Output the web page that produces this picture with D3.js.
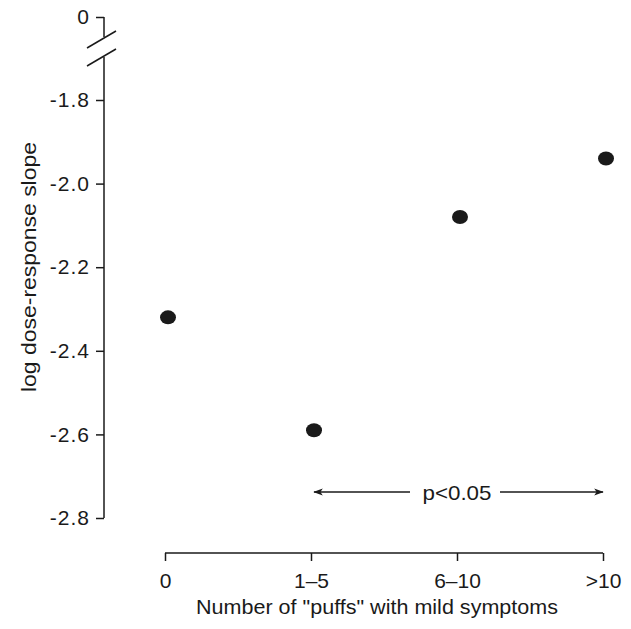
<!DOCTYPE html>
<html><head><meta charset="utf-8">
<script src="https://cdn.jsdelivr.net/npm/d3@7"></script>
<style>
body{margin:0;background:#fff;}
svg text{font-family:"Liberation Sans",Arial,sans-serif;fill:#1a1a1a;}
</style></head>
<body><svg id="c" width="631" height="629"></svg>
<script>
const categories = ["0", "1\u20135", "6\u201310", ">10"];
const slopes = [-2.32, -2.59, -2.08, -1.94];
const yTicks = [-1.8, -2.0, -2.2, -2.4, -2.6, -2.8];
const yTickLabels = ["-1.8", "-2.0", "-2.2", "-2.4", "-2.6", "-2.8"];
const breakTick = [0];
const annotation = "p<0.05";
const xTitle = "Number of \"puffs\" with mild symptoms";
const yTitle = "log dose-response slope";

const svg = d3.select("#c");
const ink = "#1a1a1a";
const axX = 104;
const axY = 553;

const x = d3.scalePoint().domain(categories).range([165, 603]);
const y = d3.scaleLinear().domain([-1.8, -2.8]).range([100, 518]);
const yTop = d3.scaleLinear().domain([0, 1]).range([17, 0]);

// y axis (lower part)
const gy = svg.append("g").attr("transform", `translate(${axX},0)`)
  .call(d3.axisLeft(y).tickValues(yTicks).tickFormat((d,i)=>yTickLabels[i]).tickSize(8).tickPadding(6).tickSizeOuter(0));
gy.select(".domain").remove();
gy.append("line").attr("x1",0).attr("x2",0).attr("y1",57).attr("y2",y(-2.8)).attr("stroke",ink).attr("stroke-width",1.5);
// y axis top part with 0 tick
const gy0 = svg.append("g").attr("transform", `translate(${axX},0)`)
  .call(d3.axisLeft(yTop).tickValues(breakTick).tickFormat(d3.format("d")).tickSize(8).tickPadding(6).tickSizeOuter(0));
gy0.select(".domain").remove();
gy0.append("line").attr("x1",0).attr("x2",0).attr("y1",yTop(0)).attr("y2",37).attr("stroke",ink).attr("stroke-width",1.5);
// break marks
[[-17,48,12,31],[-17,66,12,49]].forEach(s=>{
  svg.append("line").attr("x1",axX+s[0]).attr("y1",s[1]).attr("x2",axX+s[2]).attr("y2",s[3])
    .attr("stroke",ink).attr("stroke-width",1.5);
});
[gy, gy0].forEach(g=>{
  g.selectAll(".tick line").attr("stroke",ink).attr("stroke-width",1.5);
  g.selectAll(".tick text").attr("font-size",21).attr("letter-spacing",1).style("fill",ink);
});

// x axis
const gx = svg.append("g").attr("transform", `translate(0,${axY})`)
  .call(d3.axisBottom(x).tickSize(8).tickPadding(12).tickSizeOuter(0));
gx.select(".domain").remove();
gx.append("line").attr("x1",x(categories[0])).attr("x2",x(categories[3])).attr("y1",0).attr("y2",0).attr("stroke",ink).attr("stroke-width",1.5);
gx.selectAll(".tick line").attr("stroke",ink).attr("stroke-width",1.5);
gx.selectAll(".tick text").attr("font-size",21).style("fill",ink);

// titles
svg.append("text").attr("x",377).attr("y",614)
  .attr("text-anchor","middle").attr("font-size",21)
  .attr("textLength",362).attr("lengthAdjust","spacingAndGlyphs").text(xTitle);
svg.append("text").attr("transform","translate(36,267) rotate(-90)")
  .attr("text-anchor","middle").attr("font-size",21)
  .attr("textLength",250).attr("lengthAdjust","spacingAndGlyphs").text(yTitle);

// points
svg.append("g").selectAll("ellipse").data(slopes).join("ellipse")
  .attr("cx",(d,i)=>x(categories[i])+3).attr("cy",d=>y(d))
  .attr("rx",8).attr("ry",7).attr("fill",ink);

// annotation arrow
const ay = 492;
const defs = svg.append("defs");
defs.append("marker").attr("id","ah").attr("viewBox","0 0 12 10").attr("refX",11).attr("refY",5)
  .attr("markerWidth",12).attr("markerHeight",8).attr("markerUnits","userSpaceOnUse").attr("orient","auto-start-reverse")
  .append("path").attr("d","M0,0.5 L12,5 L0,9.5 L3,5 Z").attr("fill",ink);
svg.append("line").attr("x1",x(categories[1])+3).attr("x2",410).attr("y1",ay).attr("y2",ay)
  .attr("stroke",ink).attr("stroke-width",1.3).attr("marker-start","url(#ah)");
svg.append("line").attr("x1",500).attr("x2",x(categories[3])).attr("y1",ay).attr("y2",ay)
  .attr("stroke",ink).attr("stroke-width",1.3).attr("marker-end","url(#ah)");
svg.append("text").attr("x",457).attr("y",ay+8).attr("text-anchor","middle").attr("font-size",21)
  .attr("textLength",69).attr("lengthAdjust","spacingAndGlyphs").text(annotation);
</script></body></html>
